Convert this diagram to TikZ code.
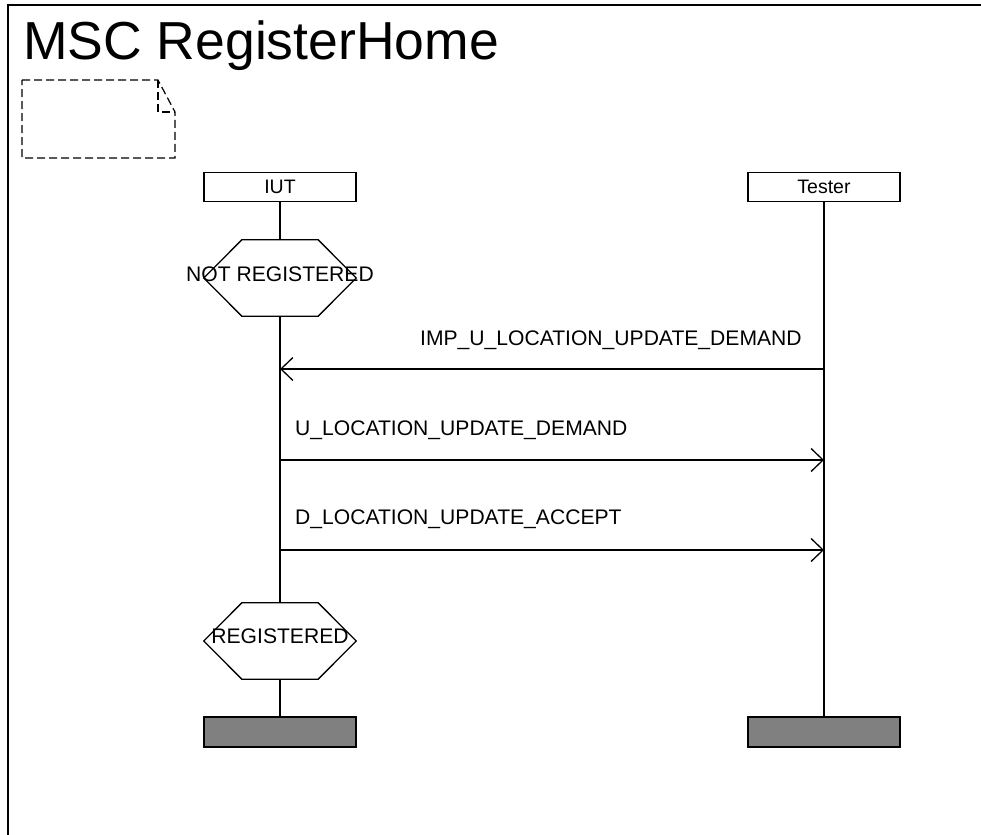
\documentclass[tikz,border=0pt]{standalone}
\usepackage{fontspec}
\setmainfont{Liberation Sans}
\usetikzlibrary{arrows.meta,calc}
\definecolor{endgray}{RGB}{128,128,128}
\tikzset{
  ln/.style={line width=1.3pt},
  instbox/.style={ln, draw, minimum width=152pt, minimum height=29pt, inner sep=0pt, font=\fontsize{19.5}{22}\selectfont},
  endbox/.style={ln, draw, fill=endgray, minimum width=152pt, minimum height=30pt, inner sep=0pt},
  hexa/.style={minimum width=152pt, minimum height=76pt, inner sep=0pt},
  txt/.style={inner sep=0pt, font=\fontsize{21.1}{24}\selectfont},
  msg/.style={ln, -{Straight Barb[length=12pt,width=23pt,line width=1.3pt]}},
  note/.style={line width=1.2pt, dash pattern=on 8pt off 4pt},
}
\newcommand{\hexpath}[1]{%
  \draw[ln] (#1.west) -- ($(#1.north west)+(38,0)$) -- ($(#1.north east)+(-38,0)$) -- (#1.east)
    -- ($(#1.south east)+(-38,0)$) -- ($(#1.south west)+(38,0)$) -- cycle;}
\begin{document}
\begin{tikzpicture}[x=1pt,y=-1pt]
\useasboundingbox (0,0) rectangle (981,834);
% frame
\draw[ln] (985,5) -- (8,5) -- (8,840);
\node[anchor=base west, inner sep=0pt, font=\fontsize{53.5}{60}\selectfont] (title) at (23,60) {MSC RegisterHome};
% comment symbol
\draw[note] (22,80) -- (158,80) -- (175,112) -- (175,158) -- (22,158) -- cycle;
\draw[note] (158,80) -- (158,112) -- (175,112);
% instances
\node[instbox] (iut) at (280,187) {IUT};
\node[instbox] (tester) at (824,187) {Tester};
% conditions
\node[hexa] (nr) at (280,278) {};
\hexpath{nr}
\node[txt, anchor=base] (nrt) at (280,281) {NOT REGISTERED};
\node[hexa] (reg) at (280,641) {};
\hexpath{reg}
\node[txt, anchor=base] (regt) at (280,643) {REGISTERED};
% ends
\node[endbox] (iutend) at (280,732) {};
\node[endbox] (testerend) at (824,732) {};
% lifelines
\draw[ln] (iut.south) -- (nr.north);
\draw[ln] (nr.south) -- (reg.north);
\draw[ln] (reg.south) -- (iutend.north);
\draw[ln] (tester.south) -- (testerend.north);
% messages
\coordinate (t1) at (824,369); \coordinate (i1) at (280,369);
\coordinate (t2) at (824,460); \coordinate (i2) at (280,460);
\coordinate (t3) at (824,550); \coordinate (i3) at (280,550);
\draw[msg] (t1) -- (i1);
\draw[msg] (i2) -- (t2);
\draw[msg] (i3) -- (t3);
\node[txt, anchor=base west] (m1) at (420,345) {IMP\_U\_LOCATION\_UPDATE\_DEMAND};
\node[txt, anchor=base west] (m2) at (295,435) {U\_LOCATION\_UPDATE\_DEMAND};
\node[txt, anchor=base west] (m3) at (295,524) {D\_LOCATION\_UPDATE\_ACCEPT};
\end{tikzpicture}
\end{document}
